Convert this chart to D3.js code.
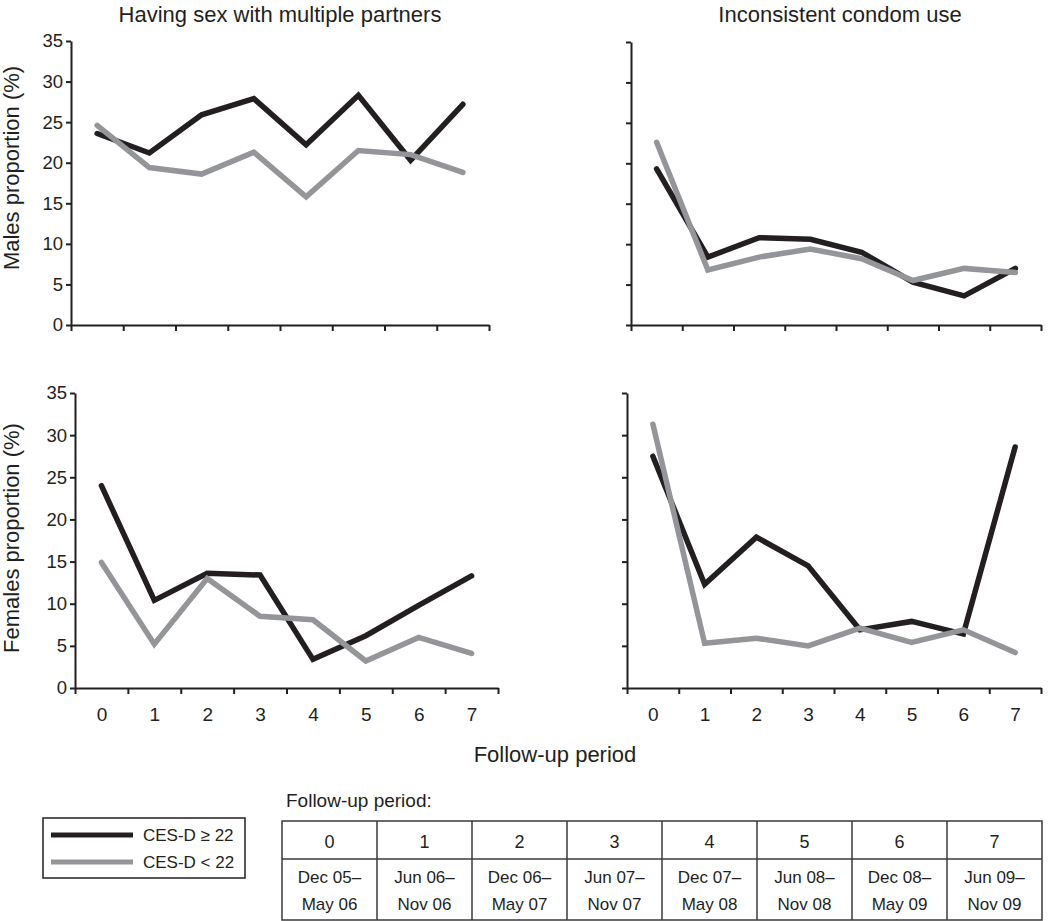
<!DOCTYPE html>
<html>
<head>
<meta charset="utf-8">
<script src="https://cdn.jsdelivr.net/npm/d3@7"></script>
<style>
  html, body { margin: 0; padding: 0; background: #fff; }
  svg { display: block; font-family: "Liberation Sans", Arial, Helvetica, sans-serif; }
</style>
</head>
<body>
<svg id="chart" width="1050" height="921"></svg>
<script>
// ---------- DATA ----------
const periods = [0, 1, 2, 3, 4, 5, 6, 7];
const seriesNames = ["CES-D \u2265 22", "CES-D < 22"];
const yTicks = [0, 5, 10, 15, 20, 25, 30, 35];
const panelTitles = ["Having sex with multiple partners", "Inconsistent condom use"];
const rowTitles = ["Males proportion (%)", "Females proportion (%)"];

const malesMultipleHigh = [23.6, 21.2, 25.9, 27.9, 22.2, 28.3, 20.3, 27.2];
const malesMultipleLow  = [24.6, 19.4, 18.6, 21.3, 15.8, 21.5, 21.0, 18.8];
const malesCondomHigh   = [19.3, 8.4, 10.8, 10.6, 9.0, 5.3, 3.6, 7.0];
const malesCondomLow    = [22.6, 6.8, 8.4, 9.4, 8.2, 5.5, 7.0, 6.5];
const femalesMultipleHigh = [24.0, 10.4, 13.6, 13.4, 3.4, 6.2, 9.8, 13.3];
const femalesMultipleLow  = [14.9, 5.2, 13.0, 8.5, 8.1, 3.2, 6.0, 4.1];
const femalesCondomHigh   = [27.5, 12.3, 17.9, 14.5, 6.9, 7.9, 6.4, 28.6];
const femalesCondomLow    = [31.3, 5.3, 5.9, 5.0, 7.1, 5.4, 6.9, 4.2];

const tablePeriodStart = ["Dec 05\u2013", "Jun 06\u2013", "Dec 06\u2013", "Jun 07\u2013", "Dec 07\u2013", "Jun 08\u2013", "Dec 08\u2013", "Jun 09\u2013"];
const tablePeriodEnd   = ["May 06", "Nov 06", "May 07", "Nov 07", "May 08", "Nov 08", "May 09", "Nov 09"];

// ---------- STYLE ----------
const black = "#231f20";
const grey = "#939598";
const colors = [black, grey];

const svg = d3.select("#chart");

const panels = [
  { x0: 71, x1: 489, yTop: 41, yBot: 325, high: malesMultipleHigh, low: malesMultipleLow, yLabels: true, xLabels: false },
  { x0: 631, x1: 1041, yTop: 42, yBot: 325, high: malesCondomHigh, low: malesCondomLow, yLabels: false, xLabels: false },
  { x0: 75, x1: 498, yTop: 393, yBot: 688, high: femalesMultipleHigh, low: femalesMultipleLow, yLabels: true, xLabels: true },
  { x0: 627, x1: 1041, yTop: 393, yBot: 688, high: femalesCondomHigh, low: femalesCondomLow, yLabels: false, xLabels: true }
];

panels.forEach(p => {
  const x = d3.scaleLinear().domain([-0.5, 7.5]).range([p.x0, p.x1]);
  const y = d3.scaleLinear().domain([0, 35]).range([p.yBot, p.yTop]);
  const g = svg.append("g");

  const ya = g.append("g").attr("transform", `translate(${p.x0},0)`)
    .call(d3.axisLeft(y).tickValues(yTicks).tickSize(5).tickSizeOuter(0)
      .tickFormat(p.yLabels ? d3.format("d") : () => ""));
  const bounds = d3.range(-0.5, 8, 1);
  const xa = g.append("g").attr("transform", `translate(0,${p.yBot})`)
    .call(d3.axisBottom(x).tickValues(bounds).tickSize(6).tickSizeOuter(0).tickFormat(() => ""));
  [ya, xa].forEach(a => {
    a.select(".domain").attr("stroke", black).attr("stroke-width", 2);
    a.selectAll(".tick line").attr("stroke", black).attr("stroke-width", 2);
    a.selectAll(".tick text").attr("fill", black).attr("font-size", 18.5)
      .attr("font-family", "Liberation Sans, Arial, sans-serif");
  });
  ya.selectAll(".tick text").attr("x", -8);

  if (p.xLabels) {
    g.append("g").attr("transform", `translate(0,${p.yBot})`)
      .call(d3.axisBottom(x).tickValues(periods).tickSize(0).tickPadding(20).tickFormat(d3.format("d")))
      .call(a => a.select(".domain").remove())
      .selectAll("text").attr("fill", black).attr("font-size", 19)
      .attr("font-family", "Liberation Sans, Arial, sans-serif");
  }

  const line = d3.line().x((d, i) => x(periods[i])).y(d => y(d));
  [p.high, p.low].forEach((s, k) => {
    g.append("path").datum(s).attr("d", line)
      .attr("fill", "none").attr("stroke", colors[k]).attr("stroke-width", 5.5)
      .attr("stroke-linejoin", "miter").attr("stroke-linecap", "round");
  });
});

// Titles
svg.append("text").attr("x", 280).attr("y", 22).attr("text-anchor", "middle")
  .attr("font-size", 22).attr("fill", black).text(panelTitles[0]);
svg.append("text").attr("x", 840).attr("y", 22).attr("text-anchor", "middle")
  .attr("font-size", 22).attr("fill", black).text(panelTitles[1]);

// Row titles
svg.append("text").attr("transform", "translate(19,168) rotate(-90)").attr("text-anchor", "middle")
  .attr("font-size", 22).attr("fill", black).text(rowTitles[0]);
svg.append("text").attr("transform", "translate(19,538) rotate(-90)").attr("text-anchor", "middle")
  .attr("font-size", 22).attr("fill", black).text(rowTitles[1]);

// x axis title
svg.append("text").attr("x", 555).attr("y", 762).attr("text-anchor", "middle")
  .attr("font-size", 22).attr("fill", black).text("Follow-up period");

// Legend
const leg = svg.append("g");
leg.append("rect").attr("x", 43).attr("y", 818).attr("width", 202).attr("height", 60)
  .attr("fill", "none").attr("stroke", black).attr("stroke-width", 1.5);
seriesNames.forEach((n, i) => {
  const yy = 835 + i * 27;
  leg.append("line").attr("x1", 51).attr("x2", 133).attr("y1", yy).attr("y2", yy)
    .attr("stroke", colors[i]).attr("stroke-width", 5);
  leg.append("text").attr("x", 143).attr("y", yy + 6).attr("font-size", 17)
    .attr("fill", black).text(n);
});

// Table
svg.append("text").attr("x", 286).attr("y", 807).attr("font-size", 19).attr("fill", black)
  .text("Follow-up period:");
const tx = d3.scaleBand().domain(periods).range([282, 1042]);
const tbl = svg.append("g");
const tTop = 821, tMid = 859, tBot = 920;
tbl.append("rect").attr("x", 282).attr("y", tTop).attr("width", 760).attr("height", tBot - tTop)
  .attr("fill", "none").attr("stroke", "#3a3a3a").attr("stroke-width", 1.5);
tbl.append("line").attr("x1", 282).attr("x2", 1042).attr("y1", tMid).attr("y2", tMid)
  .attr("stroke", "#3a3a3a").attr("stroke-width", 1.5);
periods.slice(1).forEach(d => {
  tbl.append("line").attr("x1", tx(d)).attr("x2", tx(d)).attr("y1", tTop).attr("y2", tBot)
    .attr("stroke", "#3a3a3a").attr("stroke-width", 1.5);
});
periods.forEach((d, i) => {
  const cx = tx(d) + tx.bandwidth() / 2;
  tbl.append("text").attr("x", cx).attr("y", 848).attr("text-anchor", "middle")
    .attr("font-size", 18).attr("fill", black).text(d);
  tbl.append("text").attr("x", cx).attr("y", 883).attr("text-anchor", "middle")
    .attr("font-size", 17).attr("fill", black).text(tablePeriodStart[i]);
  tbl.append("text").attr("x", cx).attr("y", 910).attr("text-anchor", "middle")
    .attr("font-size", 17).attr("fill", black).text(tablePeriodEnd[i]);
});
</script>
</body>
</html>
